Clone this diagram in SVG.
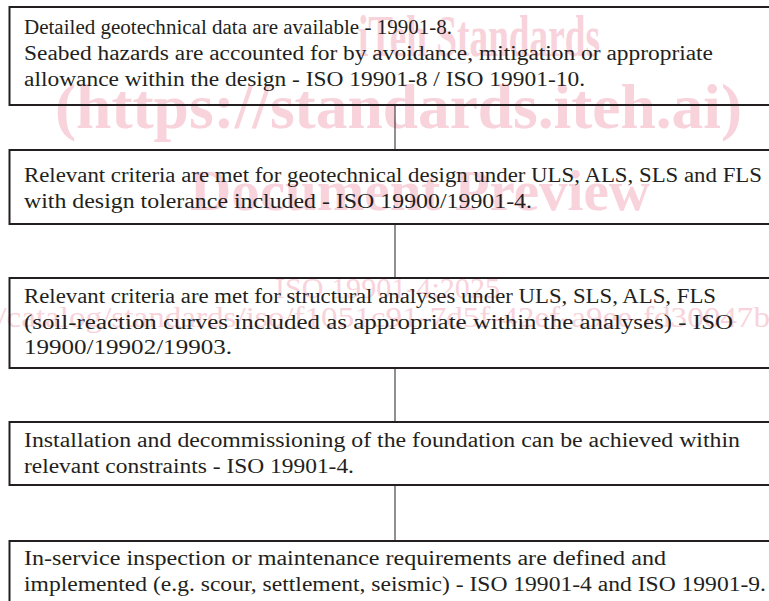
<svg xmlns="http://www.w3.org/2000/svg" width="769" height="601" viewBox="0 0 769 601">
<style>
.wm{font-family:"Liberation Serif",serif;fill:#f8d3db;font-weight:bold}
.wms{font-family:"Liberation Serif",serif;fill:#f8d3db}
.box{fill:none;stroke:#231f20;stroke-width:2}
.t{font-family:"Liberation Serif",serif;font-size:20.5px;fill:#231f20}
.con{stroke:#231f20;stroke-width:1;fill:none}
</style>
<rect width="769" height="601" fill="#fff"/>
<g id="watermark">
<text class="wm" x="358" y="56" font-size="60" textLength="242" lengthAdjust="spacingAndGlyphs">iTeh Standards</text>
<text class="wm" x="55" y="128" font-size="64" textLength="687" lengthAdjust="spacingAndGlyphs">(https://standards.iteh.ai)</text>
<text class="wm" x="190" y="210" font-size="56" textLength="460" lengthAdjust="spacingAndGlyphs">Document Preview</text>
<text class="wms" x="275" y="298" font-size="30" textLength="225" lengthAdjust="spacingAndGlyphs">ISO 19901-4:2025</text>
<text class="wms" x="-310" y="327" font-size="30" textLength="1080" lengthAdjust="spacingAndGlyphs">https://standards.iteh.ai/catalog/standards/iso/f1051c91-7d5f-42ef-a9ee-fd30047b</text>
</g>
<g id="connectors">
<line class="con" x1="395" y1="105" x2="395" y2="150"/>
<line class="con" x1="395" y1="224" x2="395" y2="278"/>
<line class="con" x1="395" y1="368" x2="395" y2="422"/>
<line class="con" x1="395" y1="485" x2="395" y2="541"/>
</g>
<g id="n1">
<rect class="box" x="9.5" y="7" width="780" height="98"/>
<text class="t" x="24" y="34" textLength="428" lengthAdjust="spacingAndGlyphs">Detailed geotechnical data are available - 19901-8.</text>
<text class="t" x="24" y="60" textLength="689" lengthAdjust="spacingAndGlyphs">Seabed hazards are accounted for by avoidance, mitigation or appropriate</text>
<text class="t" x="24" y="86" textLength="561" lengthAdjust="spacingAndGlyphs">allowance within the design - ISO 19901-8 / ISO 19901-10.</text>
</g>
<g id="n2">
<rect class="box" x="9.5" y="150" width="780" height="74"/>
<text class="t" x="24" y="182" textLength="738" lengthAdjust="spacingAndGlyphs">Relevant criteria are met for geotechnical design under ULS, ALS, SLS and FLS</text>
<text class="t" x="24" y="208" textLength="508" lengthAdjust="spacingAndGlyphs">with design tolerance included - ISO 19900/19901-4.</text>
</g>
<g id="n3">
<rect class="box" x="9.5" y="278" width="780" height="90"/>
<text class="t" x="24" y="303" textLength="692" lengthAdjust="spacingAndGlyphs">Relevant criteria are met for structural analyses under ULS, SLS, ALS, FLS</text>
<text class="t" x="24" y="329" textLength="709" lengthAdjust="spacingAndGlyphs">(soil-reaction curves included as appropriate within the analyses) - ISO</text>
<text class="t" x="24" y="354" textLength="208" lengthAdjust="spacingAndGlyphs">19900/19902/19903.</text>
</g>
<g id="n4">
<rect class="box" x="9.5" y="422" width="780" height="63"/>
<text class="t" x="24" y="447" textLength="716" lengthAdjust="spacingAndGlyphs">Installation and decommissioning of the foundation can be achieved within</text>
<text class="t" x="24" y="473" textLength="330" lengthAdjust="spacingAndGlyphs">relevant constraints - ISO 19901-4.</text>
</g>
<g id="n5">
<rect class="box" x="9.5" y="541" width="780" height="80"/>
<text class="t" x="24" y="565" textLength="642" lengthAdjust="spacingAndGlyphs">In-service inspection or maintenance requirements are defined and</text>
<text class="t" x="24" y="591" textLength="742" lengthAdjust="spacingAndGlyphs">implemented (e.g. scour, settlement, seismic) - ISO 19901-4 and ISO 19901-9.</text>
</g>
</svg>
